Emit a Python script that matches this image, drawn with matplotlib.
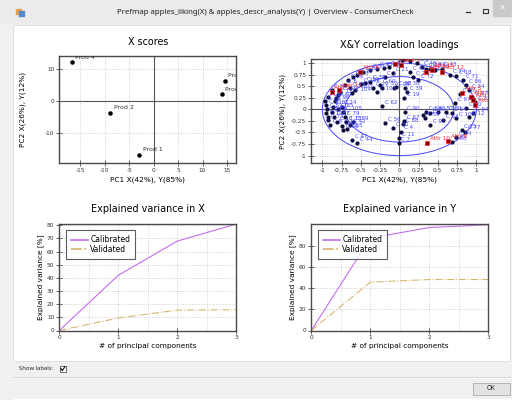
import matplotlib

matplotlib.use("Agg")
import matplotlib.pyplot as plt
from matplotlib.patches import Ellipse, Rectangle
from matplotlib.ticker import FormatStrFormatter, FuncFormatter

W, H = 512, 400

# X scores
prod_names = ["Prod 1", "Prod 2", "Prod 3", "Prod 4", "Prod 5"]
score_pc1 = [-2.9, -8.9, 14.5, -16.7, 13.9]
score_pc2 = [-16.7, -3.7, 6.3, 12.0, 2.0]

# correlation loadings, consumers (X)
cons_x = [0.07, -0.07, 0.07, 0.06, 0.02, 0.00, -0.18, 0.05, 0.06, -0.22,
          0.35, 0.50, 0.68, 0.74, 0.91, 0.87, 0.85, 0.79, 0.83, 0.55,
          -0.22, -0.50, -0.61, -0.29, -0.60, -0.69, -0.68, -0.61, -0.79,
          -0.96, -0.95, -0.94, -0.93, -0.92, -0.90, -0.95, -0.88, -0.86, -0.84,
          -0.82, -0.80, -0.77, -0.88, -0.92, -0.75, -0.73, -0.71, -0.75, -0.73,
          -0.64, -0.70, -0.66, -0.60, -0.55, -0.47, -0.38, -0.29, -0.20, -0.14,
          -0.64, -0.58, -0.45, -0.38, -0.34, -0.25, -0.19, -0.08, -0.04, 0.10,
          -0.08, -0.01, -0.55, -0.85, -0.81,
          0.03, 0.07, 0.14, 0.23, 0.29, 0.35, 0.40, 0.46, 0.66, 0.74,
          0.87, 0.91, 0.95, 0.98, 0.96, 0.81, 0.74, 0.68, 0.14, 0.18,
          0.24, 0.31, 0.40, 0.57, 0.61, 0.72, 0.40, 0.33]
cons_y = [0.47, 0.45, -0.05, 0.24, -0.48, -0.62, -0.30, -0.32, -0.25, 0.07,
          -0.05, -0.05, -0.09, -0.19, -0.17, 0.02, -0.48, 0.33, 0.63, 0.88,
          0.47, 0.54, 0.35, 0.38, -0.28, -0.27, -0.42, -0.66, 0.00,
          0.18, 0.10, 0.00, -0.17, -0.23, -0.33, -0.08, -0.05, 0.06, 0.17,
          0.24, 0.31, 0.38, 0.42, 0.27, 0.06, -0.05, -0.16, -0.37, -0.45,
          -0.34, 0.52, 0.63, 0.70, 0.74, 0.81, 0.85, 0.88, 0.90, 0.92,
          0.45, 0.42, 0.56, 0.60, 0.45, 0.52, 0.70, 0.78, 0.49, 0.38,
          -0.41, -0.73, -0.73, -0.16, -0.27,
          1.06, 1.08, 1.05, 1.00, 0.92, 0.86, 0.88, 0.85, 0.74, 0.71,
          0.52, 0.42, 0.27, 0.16, -0.09, -0.45, -0.59, -0.70, 0.81, 0.70,
          0.63, -0.12, -0.09, -0.23, -0.05, 0.13, -0.34, -0.19]
cons_id = [30, 99, 90, 19, 4, 11, 56, 88, 67, 62,
           68, 52, 54, 101, 12, 10, 77, 37, 71, 43,
           32, 102, 104, 103, 89, 78, 65, 47, 85,
           22, 45, 81, 14, 73, 8, 29, 35, 61, 96,
           40, 17, 92, 3, 48, 24, 105, 79, 49, 66,
           42, 6, 26, 70, 16, 83, 51, 95, 33, 9,
           75, 107, 55, 38, 27, 60, 1, 21, 58, 39,
           50, 7, 44, 87, 13,
           20, 81, 63, 5, 46, 23, 93, 28, 74, 18,
           86, 34, 57, 31, 94, 25, 64, 98, 41, 2,
           72, 15, 69, 53, 80, 97, 91, 59]

# correlation loadings, attributes (Y)
attr_x = [0.02, -0.05, 0.35, 0.42, 0.55, -0.51, -0.88, 0.82, 0.93, 0.96,
          0.98, 0.36, 0.63, -0.78]
attr_y = [0.96, 0.98, 0.81, 0.85, 0.81, 0.80, 0.37, 0.35, 0.27, 0.20,
          0.10, -0.73, -0.68, 0.42]
attr_id = [1, 7, 3, 13, 12, 6, 2, 5, 9, 14, 4, 10, 8, 11]

# explained variance
pcs = [0, 1, 2, 3]
x_calibrated = [0, 42, 68, 81]
x_validated = [0, 9.5, 15.5, 15.8]
y_calibrated = [0, 87, 97, 99.6]
y_validated = [0, 45.5, 48, 48]

plt.rcParams["axes.unicode_minus"] = False
SPINE = "#4a4a4a"
CAL = "#c46cf0"
VAL = "#d8b46e"
BLUE = "#4444ff"
RED = "#ff2a2a"


def px_axes(fig, left, top, right, bottom):
    return fig.add_axes([left / W, 1 - bottom / H, (right - left) / W, (bottom - top) / H])


def style(ax, title, xlabel, ylabel, title_pad, ylab_x, xlab_y):
    ax.set_title(title, fontsize=6.9, pad=title_pad)
    ax.set_xlabel(xlabel, fontsize=5.3)
    ax.set_ylabel(ylabel, fontsize=5.3)
    ax.xaxis.set_label_coords(0.5, xlab_y)
    ax.yaxis.set_label_coords(ylab_x, 0.5)
    for sp in ax.spines.values():
        sp.set_color(SPINE)
        sp.set_linewidth(1.0)
    ax.tick_params(direction="inout", length=4, width=0.6, color=SPINE,
                   labelsize=4.2, pad=1.5, labelcolor="#333333")
    ax.grid(True, ls=":", lw=0.6, color="#c4c4c4")
    ax.set_axisbelow(True)


fig = plt.figure(figsize=(W / 100, H / 100), dpi=100)

# window chrome
bg = fig.add_axes([0, 0, 1, 1])
bg.set_xlim(0, W)
bg.set_ylim(H, 0)
bg.axis("off")
bg.add_patch(Rectangle((0, 0), W, H, color="#f0f0f0"))
bg.add_patch(Rectangle((0, 0), W, 22, color="#ebebeb"))
bg.add_patch(Rectangle((13, 25), W - 15, 336, facecolor="white", edgecolor="#dadada", lw=0.6))
bg.add_patch(Rectangle((493, 0), 19, 16, color="#c9c9c9"))
bg.text(502.5, 8, "×", fontsize=6, color="white", ha="center", va="center")
bg.plot([466, 470], [12, 12], color="#333333", lw=0.9)
bg.add_patch(Rectangle((483, 9), 5, 4, facecolor="none", edgecolor="#333333", lw=0.8))
bg.add_patch(Rectangle((15.5, 9), 5, 5, color="#e0a050"))
bg.add_patch(Rectangle((19, 11), 5, 5, color="#5588cc"))
bg.text(265, 12.5, "Prefmap apples_liking(X) & apples_descr_analysis(Y) | Overview - ConsumerCheck",
        fontsize=5.6, family=["Noto Sans", "DejaVu Sans"], color="#222222",
        ha="center", va="center")
bg.text(19, 369, "Show labels:", fontsize=4.2, family=["Noto Sans", "DejaVu Sans"],
        color="#222222", va="center")
bg.add_patch(Rectangle((59.5, 365.5), 6.5, 6.5, facecolor="white", edgecolor="#555555", lw=0.6))
bg.plot([60.8, 62.3, 65], [368.5, 370.7, 366.5], color="#111111", lw=0.8)
bg.plot([13, 510], [377, 377], color="#d6d6d6", lw=0.7)
bg.plot([13, 510], [378, 378], color="white", lw=0.5)
bg.add_patch(Rectangle((472.5, 382.5), 37, 12.5, facecolor="#e3e3e3", edgecolor="#acacac", lw=0.6))
bg.text(491, 389, "OK", fontsize=4.5, family=["Noto Sans", "DejaVu Sans"],
        color="#222222", ha="center", va="center")
bg.plot([13, 512], [398.5, 398.5], color="white", lw=0.8)

# X scores
ax = px_axes(fig, 59.3, 55.7, 236.3, 162.7)
style(ax, "X scores", "PC1 X(42%), Y(85%)", "PC2 X(26%), Y(12%)", 8, -0.19, -0.125)
ax.set_xlim(-19.3, 16.9)
ax.set_ylim(-19.1, 14.0)
ax.set_xticks([-15, -10, -5, 0, 5, 10, 15])
ax.set_yticks([-10, 0, 10])
ax.axhline(0, color="#555555", lw=0.8, zorder=1)
ax.axvline(0, color="#555555", lw=0.8, zorder=1)
ax.scatter(score_pc1, score_pc2, s=5, color="black", zorder=3)
for name, px, py in zip(prod_names, score_pc1, score_pc2):
    ax.annotate(name, (px, py), xytext=(2.5, 2.5), textcoords="offset points",
                fontsize=4.5, color="#333333", clip_on=True)

# X&Y correlation loadings
ax = px_axes(fig, 311.3, 59.3, 488.3, 163.3)
style(ax, "X&Y correlation loadings", "PC1 X(42%), Y(85%)", "PC2 X(26%), Y(12%)", 8, -0.145, -0.125)
ax.set_xlim(-1.143, 1.156)
ax.set_ylim(-1.166, 1.08)
ax.set_xticks([-1, -0.75, -0.5, -0.25, 0, 0.25, 0.5, 0.75, 1])
ax.set_yticks([-1, -0.75, -0.5, -0.25, 0, 0.25, 0.5, 0.75, 1])
ax.xaxis.set_major_formatter(FuncFormatter(lambda v, p: f"{v:g}"))
ax.yaxis.set_major_formatter(FuncFormatter(lambda v, p: f"{v:g}"))
ax.axhline(0, color="#555555", lw=0.8, zorder=1)
ax.axvline(0, color="#555555", lw=0.8, zorder=1)
ax.add_patch(Ellipse((0, 0), 2, 2, fill=False, color=BLUE, lw=0.7, zorder=2))
ax.add_patch(Ellipse((0, 0), 2 * 0.7071, 2 * 0.7071, fill=False, color=BLUE, lw=0.7, zorder=2))
ax.scatter(cons_x, cons_y, s=4, color="#0b0b40", zorder=3)
for cid, cx, cy in zip(cons_id, cons_x, cons_y):
    ax.annotate(f"C {cid}", (cx, cy), xytext=(2, 1.5), textcoords="offset points",
                fontsize=4.0, color=BLUE, clip_on=True, zorder=4)
ax.scatter(attr_x, attr_y, s=6, marker="s", facecolor="#7a0000", edgecolor=RED,
           linewidths=0.5, zorder=5)
for aid, axx, ayy in zip(attr_id, attr_x, attr_y):
    ax.annotate(f"Attr {aid}", (axx, ayy), xytext=(2, 2), textcoords="offset points",
                fontsize=4.2, color=RED, clip_on=True, zorder=6)

# explained variance
for left, ylim, yticks, cal, val, title in [
    (59.3, (0, 81), range(0, 81, 10), x_calibrated, x_validated, "Explained variance in X"),
    (311.3, (0, 100.3), range(0, 81, 20), y_calibrated, y_validated, "Explained variance in Y"),
]:
    ax = px_axes(fig, left, 224, left + 177, 330.5)
    ylab_x = -0.084 if left < 100 else -0.086
    style(ax, title, "# of principal components", "Explained variance [%]", 8.5, ylab_x, -0.115)
    ax.set_xlim(0, 3)
    ax.set_ylim(*ylim)
    ax.set_xticks(pcs)
    ax.set_yticks(list(yticks))
    ax.xaxis.set_major_formatter(FormatStrFormatter("%d"))
    ax.plot(pcs, cal, color=CAL, lw=0.8, label="Calibrated")
    ax.plot(pcs, val, color=VAL, lw=0.8, ls="-.", label="Validated")
    ax.grid(True, which="both", ls=":", lw=0.6, color="#c4c4c4")
    ax.set_xticks([0.5, 1.5, 2.5], minor=True)
    ax.tick_params(which="minor", length=0)
    leg = ax.legend(loc="upper left", bbox_to_anchor=(6.4 / 177, 1 - 6 / 106.5),
                    borderaxespad=0, fontsize=5.5, frameon=True, fancybox=False,
                    handlelength=2.2, handletextpad=0.3, labelspacing=0.05,
                    borderpad=0.7)
    leg.get_frame().set_edgecolor("#333333")
    leg.get_frame().set_linewidth(0.8)
    for ln in leg.get_lines():
        ln.set_linewidth(1.2)

fig.savefig("out.png", dpi=100)
